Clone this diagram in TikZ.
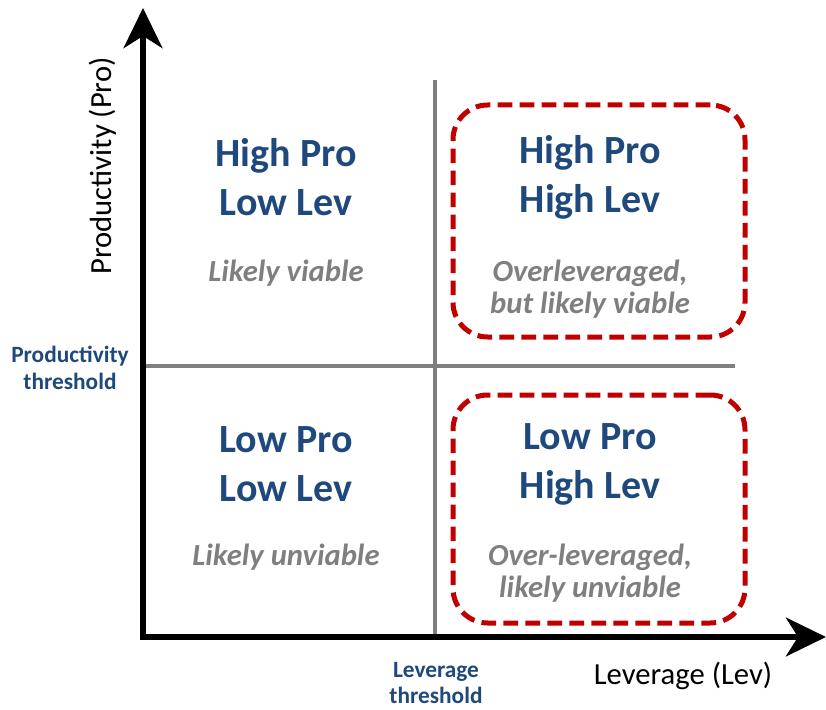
\documentclass[tikz,border=0pt]{standalone}
\usepackage{fontspec}
\setmainfont{Carlito}
\usetikzlibrary{positioning,arrows.meta}
\definecolor{navy}{RGB}{31,73,125}
\definecolor{midgrey}{RGB}{127,127,127}
\definecolor{riskred}{RGB}{192,0,0}
\tikzset{
  axis/.style   ={line width=4.5pt, line join=miter,
                  {Stealth[length=30pt,width=29pt,inset=9pt]}-{Stealth[length=30pt,width=29pt,inset=9pt]}},
  thr/.style    ={draw=midgrey, line width=3pt},
  quad/.style   ={text=navy, align=center, font=\bfseries\fontsize{30}{36.75}\selectfont},
  verdict/.style={text=midgrey, align=center, font=\bfseries\itshape\fontsize{23}{23.5}\selectfont},
  thrlab/.style ={text=navy, align=center, font=\bfseries\fontsize{17.5}{20}\selectfont},
  axlab/.style  ={font=\fontsize{23}{27}\selectfont},
  riskbox/.style={draw=riskred, line width=3.75pt, dash pattern=on 11pt off 5.5pt,
                  rounded corners=26pt, minimum width=219pt},
}
\begin{document}
\begin{tikzpicture}[x=0.75pt,y=-0.75pt]
\useasboundingbox (0,0) rectangle (826,710);

\coordinate (orig) at (143,637);
\coordinate (ytip) at (143,8);
\coordinate (xtip) at (826,637);
\coordinate (vtop) at (435,80);
\coordinate (vbot) at (435,637);
\coordinate (hleft) at (143,366);
\coordinate (hright) at (735,366);

\node[riskbox,minimum height=174pt] (hhbox) at (599,221) {};
\node[riskbox,minimum height=171pt] (lhbox) at (599,509) {};

\draw[thr] (vtop) -- (vbot);
\draw[thr] (hleft) -- (hright);
\draw[axis] (ytip) -- (orig) -- (xtip);

\node[quad] (hpll) at (286,177) {High Pro\\ Low Lev};
\node[verdict] (hpllv) at (286,273) {Likely viable};
\node[quad] (hphl) at (590,177) {High Pro\\ High Lev};
\node[verdict] (hphlv) at (590,289) {Overleveraged,\\ but likely viable};
\node[quad] (lpll) at (286,464) {Low Pro\\ Low Lev};
\node[verdict] (lpllv) at (286,557) {Likely unviable};
\node[quad] (lphl) at (590,464) {Low Pro\\ High Lev};
\node[verdict] (lphlv) at (590,573) {Over-leveraged,\\ likely unviable};

\node[thrlab] (prothr) at (70,368) {Productivity\\ threshold};
\node[thrlab] (levthr) at (436,683) {Leverage\\ threshold};
\node[axlab] (levlab) at (683,676) {Leverage (Lev)};
\node[axlab,rotate=90] (prolab) at (103,166) {Productivity (Pro)};
\end{tikzpicture}
\end{document}
